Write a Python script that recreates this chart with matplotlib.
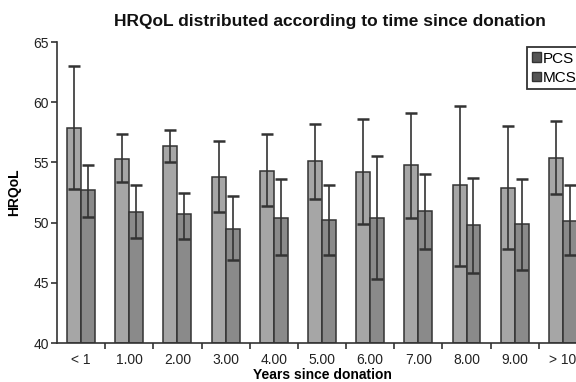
import matplotlib
matplotlib.use("Agg")
import matplotlib.pyplot as plt
import numpy as np
from matplotlib.patches import Patch

categories = ["< 1", "1.00", "2.00", "3.00", "4.00", "5.00", "6.00", "7.00", "8.00", "9.00", "> 10"]
pcs_mean = [57.9, 55.3, 56.4, 53.8, 54.3, 55.1, 54.2, 54.8, 53.1, 52.9, 55.4]
pcs_upper = [63.0, 57.4, 57.7, 56.8, 57.4, 58.2, 58.6, 59.1, 59.7, 58.0, 58.4]
pcs_lower = [52.8, 53.4, 55.0, 50.9, 51.4, 52.0, 49.9, 50.4, 46.4, 47.8, 52.4]
mcs_mean = [52.7, 50.9, 50.7, 49.5, 50.4, 50.2, 50.4, 51.0, 49.8, 49.9, 50.1]
mcs_upper = [54.8, 53.1, 52.5, 52.2, 53.6, 53.1, 55.5, 54.0, 53.7, 53.6, 53.1]
mcs_lower = [50.5, 48.7, 48.6, 46.9, 47.3, 47.3, 45.3, 47.8, 45.8, 46.1, 47.3]
y_ticks = [40, 45, 50, 55, 60, 65]

plt.rcParams['font.family'] = ['Liberation Sans', 'DejaVu Sans']

fig = plt.figure(figsize=(5.76, 3.82), dpi=100)
ax = fig.add_axes([0.099, 0.102, 0.92, 0.788])

x = np.arange(len(categories))
w = 0.29
pcs_color = "#a6a6a6"
mcs_color = "#8a8a8a"
edge = "#333333"
base = 40

pm = np.array(pcs_mean); mm = np.array(mcs_mean)
ax.bar(x - w / 2, pm - base, w, bottom=base, color=pcs_color, edgecolor=edge, linewidth=1.1, zorder=2)
ax.bar(x + w / 2, mm - base, w, bottom=base, color=mcs_color, edgecolor=edge, linewidth=1.1, zorder=2)

pcs_err = [pm - np.array(pcs_lower), np.array(pcs_upper) - pm]
mcs_err = [mm - np.array(mcs_lower), np.array(mcs_upper) - mm]
ax.errorbar(x - w / 2, pm, yerr=pcs_err, fmt='none', ecolor=edge, elinewidth=1.2, capsize=4.5, capthick=1.8, zorder=3)
ax.errorbar(x + w / 2, mm, yerr=mcs_err, fmt='none', ecolor=edge, elinewidth=1.2, capsize=4.5, capthick=1.8, zorder=3)

ax.set_xlim(-0.5, len(categories) - 0.5)
ax.set_ylim(40, 65)
ax.set_yticks(y_ticks)
ax.set_yticklabels([str(t) for t in y_ticks], fontsize=10, color="#222222")
ax.set_xticks(x)
ax.set_xticklabels(categories, fontsize=10, color="#222222")
ax.tick_params(axis='x', which='major', length=0, pad=7)
ax.set_xticks(np.arange(0.5, len(categories) - 0.5, 1), minor=True)
ax.tick_params(axis='x', which='minor', length=4, width=1.2, color=edge, direction='out')
ax.tick_params(axis='y', length=4, width=1.2, color=edge, direction='out', pad=2)

for s in ['top', 'right']:
    ax.spines[s].set_visible(False)
for s in ['left', 'bottom']:
    ax.spines[s].set_color(edge)
    ax.spines[s].set_linewidth(1.2)

ax.set_ylabel("HRQoL", fontsize=10, fontweight='bold', labelpad=9)
ax.set_xlabel("Years since donation", fontsize=10, fontweight='bold', labelpad=1)

fig.text(0.573, 0.945, "HRQoL distributed according to time since donation",
         ha='center', va='center', fontsize=12.5, fontweight='bold', color="#111111")

handles = [Patch(facecolor="#555555", edgecolor="#333333", label="PCS"),
           Patch(facecolor="#555555", edgecolor="#333333", label="MCS")]
leg = fig.legend(handles=handles, loc='upper left', bbox_to_anchor=(0.915, 0.877),
                 fontsize=11, handlelength=0.6, handleheight=0.6, handletextpad=0.15,
                 borderpad=0.3, labelspacing=0.35, fancybox=False, framealpha=1,
                 edgecolor="#333333", borderaxespad=0)
leg.get_frame().set_linewidth(1.3)

fig.savefig("out.png", dpi=100)
